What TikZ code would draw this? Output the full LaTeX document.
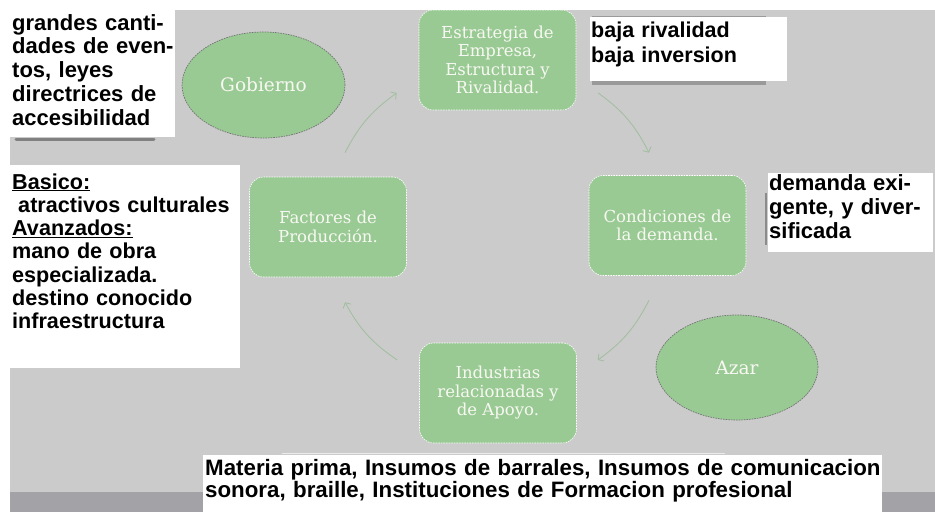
\documentclass[tikz,border=0pt]{standalone}
\usepackage{fontspec}
\setmainfont{Liberation Sans}
\newfontfamily\nodefont{DejaVu Serif}
\usetikzlibrary{shapes.geometric,arrows.meta,calc}
\definecolor{bggray}{HTML}{CBCBCB}
\definecolor{stripgray}{HTML}{A3A3A7}
\definecolor{leaf}{HTML}{99CA94}
\definecolor{arrowc}{HTML}{A0BE9D}
\definecolor{nodetext}{HTML}{F8F8F2}
\definecolor{shadowc}{HTML}{6E6E6E}
\begin{document}
\begin{tikzpicture}[x=1pt,y=-1pt,
  stage/.style={rectangle, rounded corners=14pt, fill=leaf, draw=white, dash pattern=on 1.6pt off 1pt, line width=0.6pt,
    minimum width=157pt, minimum height=100pt, inner sep=0pt, align=center, text=nodetext,
    font=\nodefont\fontsize{16.5}{18.5}\selectfont},
  force/.style={ellipse, fill=leaf, draw=black!55, dash pattern=on 1.6pt off 1pt, line width=0.7pt,
    inner sep=0pt, text=nodetext, font=\nodefont\fontsize{18.5}{20}\selectfont},
  wbox/.style={rectangle, fill=white, draw=none, inner sep=0pt, anchor=north west},
  btext/.style={anchor=base west, inner sep=0pt, align=left, font=\bfseries\fontsize{22}{24}\selectfont},
  arr/.style={draw=arrowc, line width=0.8pt, -{Straight Barb[length=4pt,width=9pt]}}
]
\useasboundingbox (0,0) rectangle (935,512);
\fill[white] (0,0) rectangle (935,512);
\fill[bggray] (10,10) rectangle (935,492);
\fill[stripgray] (10,492) rectangle (935,512);

% cycle nodes
\node[stage] (est) at (497.5,60) {Estrategia de\\Empresa,\\Estructura y\\Rivalidad.};
\node[stage] (cond) at (667.5,225.5) {Condiciones de\\la demanda.};
\node[stage] (ind) at (498,393) {Industrias\\relacionadas y\\de Apoyo.};
\node[stage] (fac) at (328,227) {Factores de\\Producción.};
\node[force, minimum width=163pt, minimum height=106pt] (gob) at (263.5,85) {Gobierno};
\node[force, minimum width=162pt, minimum height=105pt] (azar) at (737,367.5) {Azar};

% arrows of the cycle
\coordinate (a1s) at ($(fac.north)+(17,-24)$);
\coordinate (a1e) at ($(est.west)+(-22,33)$);
\coordinate (a2s) at ($(est.east)+(22,33)$);
\coordinate (a2e) at ($(cond.north)+(-18.5,-22.5)$);
\coordinate (a3s) at ($(cond.south)+(-18.5,24.5)$);
\coordinate (a3e) at ($(ind.east)+(21,-33)$);
\coordinate (a4s) at ($(ind.west)+(-22,-33)$);
\coordinate (a4e) at ($(fac.south)+(17,25)$);
\draw[arr] (a1s) to[bend left=13.5] (a1e);
\draw[arr] (a2s) to[bend left=13.5] (a2e);
\draw[arr] (a3s) to[bend left=13.5] (a3e);
\draw[arr] (a4s) to[bend left=13.5] (a4e);

% white annotation boxes
\draw[shadowc, line width=3pt, line cap=round, opacity=0.8] (16,139) -- (154,139);
\node[wbox, minimum width=165pt, minimum height=127pt] (gbox) at (10,10) {};
\node[btext, text width=163pt, font=\bfseries\fontsize{22}{23.8}\selectfont] (gtext) at (12,30)
  {grandes canti-\\dades de even-\\tos, leyes\\directrices de\\accesibilidad};

\node[wbox, minimum width=230pt, minimum height=203pt] (bbox) at (10,165) {};
\node[btext, text width=228pt, font=\bfseries\fontsize{21.6}{23.3}\selectfont] (btxt) at (12,189)
  {\underline{Basico:}\\\hspace*{0.28em}atractivos culturales\\\underline{Avanzados:}\\mano de obra\\especializada.\\destino conocido\\infraestructura};

\fill[shadowc!70] (592,16) rectangle (766,85);
\node[wbox, minimum width=197pt, minimum height=64pt] (rbox) at (590,17) {};
\node[btext, text width=195pt, font=\bfseries\fontsize{21.5}{25.5}\selectfont] (rtxt) at (591,37)
  {baja rivalidad\\baja inversion};

\draw[shadowc!80, line width=1.5pt] (766,193) -- (766,245);
\node[wbox, minimum width=165pt, minimum height=79pt] (dbox) at (768,173) {};
\node[btext, text width=163pt] (dtxt) at (769,190)
  {demanda exi-\\gente, y diver-\\sificada};

\draw[white!92!black, line width=1pt] (282,453.5) -- (725,453.5);
\node[wbox, minimum width=679pt, minimum height=57pt] (mbox) at (203,455) {};
\node[btext, text width=720pt, font=\bfseries\fontsize{22.3}{22.5}\selectfont] (mtxt) at (205,475)
  {Materia prima, Insumos de barrales, Insumos de comunicacion\\sonora, braille, Instituciones de Formacion profesional};
\end{tikzpicture}
\end{document}
